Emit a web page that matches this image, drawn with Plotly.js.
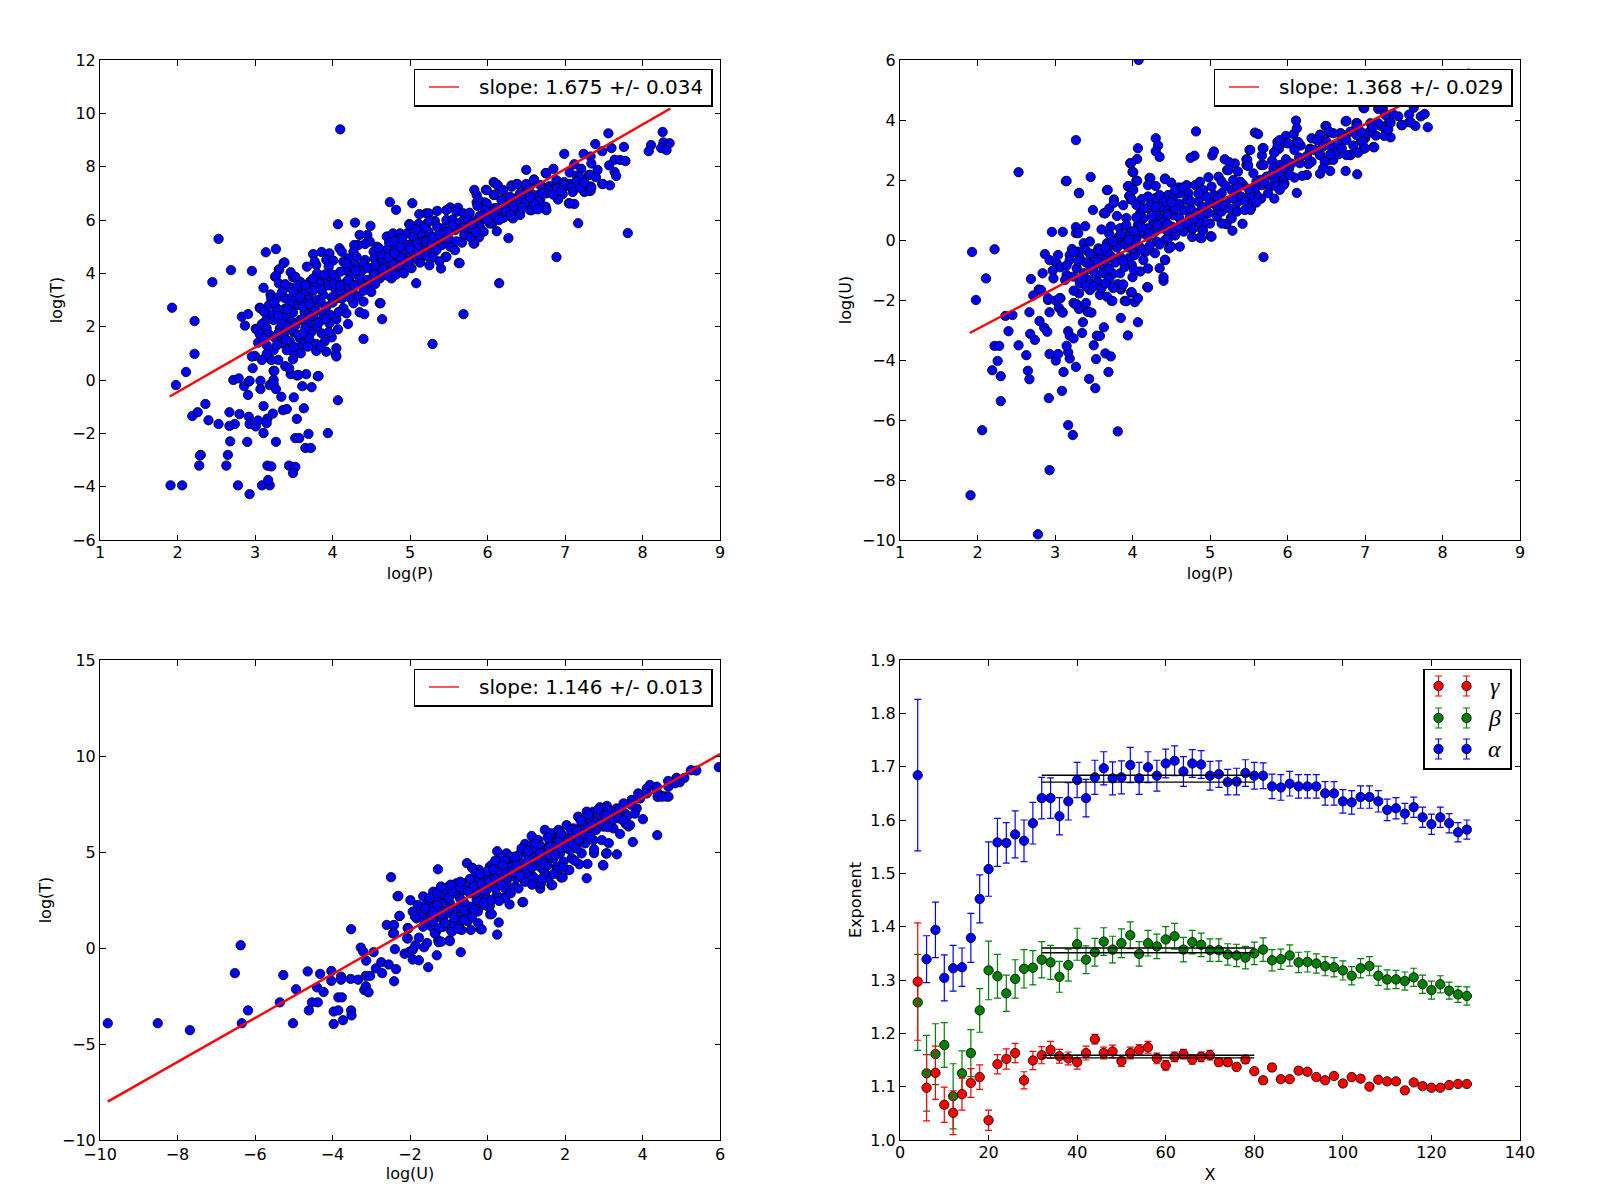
<!DOCTYPE html>
<html>
<head>
<meta charset="utf-8">
<script src="https://cdn.plot.ly/plotly-3.0.1.min.js"></script>
<style>body{margin:0;background:#fff}</style>
</head>
<body>
<div id="chart" style="width:1600px;height:1200px"></div>
<script>
// log(P) vs log(T)
const pointsPT = [[1.93,2.71],[1.98,-0.19],[2.11,0.30],[2.22,2.21],[2.22,0.98],[2.19,-1.35],[2.26,-1.21],[2.36,-0.90],[2.40,-1.51],[2.53,5.29],[2.53,-1.65],[2.45,3.67],[2.69,4.12],[2.30,-2.81],[2.29,-2.83],[2.28,-3.21],[1.91,-3.95],[2.06,-3.95],[2.63,-3.21],[2.65,-2.81],[2.68,-2.30],[2.67,-1.21],[2.67,-1.72],[2.74,-1.65],[2.80,-1.28],[2.72,0.0],[2.79,0.06],[2.86,-0.23],[2.92,-0.06],[2.93,-0.03],[2.91,-0.56],[2.92,-1.38],[2.93,-1.65],[3.01,-1.74],[3.04,-1.52],[2.90,-2.32],[2.78,-3.95],[2.93,-4.28],[3.09,-3.95],[3.19,-3.95],[3.17,-3.75],[3.16,-3.21],[3.21,-3.24],[3.11,-1.99],[3.16,-1.45],[3.15,-1.62],[3.23,-1.26],[3.11,-0.98],[3.07,-0.03],[3.07,-0.34],[3.19,-0.19],[3.24,0.01],[3.24,-0.13],[3.27,-0.34],[3.27,-2.32],[3.34,-0.63],[3.36,-1.13],[3.41,-1.09],[3.44,-3.21],[3.52,-3.26],[3.49,-3.49],[3.50,-0.65],[3.54,-1.46],[3.52,-2.18],[3.57,-2.18],[3.65,-2.55],[3.72,-2.55],[3.69,-2.02],[3.94,-1.99],[3.63,-1.06],[3.61,-0.23],[3.73,-0.27],[3.81,0.14],[3.66,0.22],[3.54,0.17],[3.46,0.22],[3.39,0.52],[3.24,0.34],[2.97,0.44],[4.07,-0.76],[4.40,1.54],[4.64,2.28],[4.61,2.88],[5.29,1.35],[5.08,3.63],[5.69,2.47],[6.15,3.63],[6.89,4.61],[7.81,5.51],[7.17,5.88],[6.27,5.32],[6.12,5.58],[4.10,9.40],[4.07,5.84],[4.29,5.90],[4.49,5.78],[4.74,6.67],[4.82,6.38],[5.03,6.63],[3.27,4.91],[3.14,4.79],[2.96,4.09],[3.37,4.39],[3.31,4.13],[3.26,3.87],[3.11,3.46],[3.06,2.71],[2.83,2.37],[2.91,2.47],[2.87,2.04],[3.01,1.92],
[8.26,9.30],[8.27,8.91],[8.35,8.88],[8.11,8.81],[8.24,8.70],[8.08,8.58],[8.31,8.62],[7.56,9.25],[7.39,8.85],[7.60,8.70],[7.76,8.74],[7.48,8.58],[7.64,8.26],[7.71,8.25],[7.78,8.21],[7.57,8.05],[7.42,7.88],[7.64,7.80],[7.66,7.65],[7.48,7.35],[7.58,7.30],[7.33,7.26],[7.32,7.09],[7.25,7.05],[7.05,6.63],[7.12,6.60],[7.24,8.48],[6.99,8.48],[7.33,8.38],[7.34,8.12],[7.12,8.09],[7.21,7.92],[6.85,7.92],[6.50,7.88],[6.75,7.76],[7.06,7.78],[7.31,7.69],[6.60,7.52],[7.15,7.66],[6.89,7.49],[6.99,7.42],[7.07,7.35],[7.17,7.45],[6.08,7.42],[6.13,7.30],[5.83,7.13],[5.98,7.13],[6.19,7.13],[6.31,7.30],[6.38,7.35],[6.48,7.30],[6.55,7.30],[6.71,7.23],[6.80,7.27],[6.88,7.23],[6.98,7.23],[6.66,6.94],[6.70,6.98],[6.78,7.05],[6.91,6.80],[6.68,6.77],[6.75,6.40],[6.55,6.37],[6.49,6.66],[6.42,6.23],[6.32,6.08],[6.20,6.08],[6.06,5.87],[6.35,6.80],[6.27,6.66],[6.19,6.37],[6.09,6.44],[5.96,6.66],[5.86,6.94],[5.86,6.66],[6.08,6.94],[6.22,6.77],[6.42,6.94],[6.52,7.09],[6.28,6.44],[6.35,6.44],[6.02,6.30],[5.92,6.01],[5.86,5.77],[5.92,5.58],[5.83,5.12],[5.66,5.19],[5.63,4.39],[5.40,4.18],[5.46,4.62],
[5.12,6.22],[5.21,6.25],[4.99,5.85],[5.11,5.85],[5.22,5.87],[4.35,5.44],[4.45,5.44],[4.48,5.19],[4.70,5.38],[4.78,5.50],[4.87,5.50],[4.96,5.50],[5.09,5.52],[5.19,5.50],[4.73,5.15],[4.87,5.31],[5.02,5.12],[5.11,5.27],[5.21,5.19],[4.57,5.0],[4.70,4.88],[4.81,5.0],[4.94,4.94],[5.04,4.81],[5.15,4.90],[5.24,4.88],[4.42,5.10],[4.33,5.06],[4.28,5.06],[4.09,4.94],[4.12,4.81],[3.75,4.72],[3.86,4.80],[3.96,4.75],[3.92,4.50],[4.01,4.48],[4.27,4.81],[4.53,4.81],[4.54,4.56],[4.42,4.50],[4.31,4.62],[4.20,4.56],[4.14,4.44],[4.29,4.31],[4.22,4.19],[4.16,4.12],[4.10,4.06],[4.18,4.37],[4.40,4.37],[4.50,4.19],[4.70,4.37],[4.59,4.37],[4.83,4.50],[4.98,4.75],[5.13,4.44],[5.02,4.19],[4.89,4.19],[4.78,4.06],[4.68,4.12],[4.61,3.81],[4.76,3.81],[4.53,3.94],[4.44,3.75],[4.35,3.62],[4.46,3.56],[4.23,3.88],[4.16,3.62],[4.05,3.75],[3.97,3.81],[3.86,3.81],[3.80,4.0],[3.79,4.31],[3.67,4.25],[3.77,4.44],[3.95,4.25],[3.71,3.69],[3.89,3.50],[3.83,3.62],[3.77,3.52],[4.04,3.38],[4.18,3.44],[4.27,3.25],[4.33,3.12],[4.40,2.94],[4.16,3.19],[4.05,3.06],[3.99,3.10],[3.88,3.19],[3.80,3.0],[3.69,3.12],[3.67,3.0],[3.62,3.31],[3.54,3.40],[3.45,3.47],[3.58,3.69],[3.49,3.85],[3.46,4.04],[3.52,3.87],[3.38,4.41],[3.31,4.15],[3.27,3.90],[3.31,3.62],[3.39,3.59],[3.20,3.21],[3.21,3.06],[3.29,3.09],[3.39,3.06],[3.48,3.10],[3.54,2.81],[3.38,2.66],[3.28,2.69],[3.18,2.81],[3.07,2.69],[3.21,2.44],[3.39,2.38],[3.49,2.53],[3.64,2.56],[3.73,2.75],[3.88,2.50],[3.97,2.44],[4.14,2.69],[4.18,2.50],[4.27,2.88],[4.35,2.54],[4.41,2.47],[4.62,2.88],[4.20,2.10],[4.05,2.27],[4.07,1.90],[3.96,2.12],[3.86,2.25],[3.69,2.12],[3.75,2.37],[3.58,2.25],[3.47,2.19],[3.32,1.94],[3.24,2.25],[3.14,2.22],[3.09,2.10],[3.15,1.94],[3.02,1.90],[3.06,1.72],[3.04,1.40],[3.18,1.71],[3.49,1.81],[3.37,1.69],[3.58,1.56],[3.73,1.81],[3.86,1.75],[3.99,1.60],[4.05,1.19],[4.04,0.97],[4.05,0.88],[3.92,1.06],[3.79,1.35],[3.79,1.09],[3.64,1.38],[3.57,1.19],[3.59,1.0],[3.49,1.06],[3.49,0.78],[3.41,1.12],[3.34,1.38],[3.24,1.12],[3.30,0.75],[3.21,0.75],[3.15,0.97],[3.09,0.75],[3.0,0.9],[2.96,0.88],[3.44,0.44],[3.25,0.34],[3.56,0.19],[3.82,0.15],
[5.24,6.25],[5.35,6.34],[5.52,6.47],[5.62,6.46],[5.47,6.37],[5.60,6.31],[5.69,6.25],[5.77,6.27],[5.47,6.0],[5.55,6.02],[5.67,5.94],[5.75,6.0],[5.32,5.97],[5.25,5.97],[5.43,5.69],[5.58,5.62],[5.73,5.56],[5.90,5.75],[5.95,5.56],[5.80,5.69],[5.24,5.56],[5.34,5.25],[5.13,5.5],[5.0,5.81],[5.04,5.38],[5.21,5.19],[5.41,5.06],[5.52,5.0],[5.67,5.15],[5.82,5.12],[5.89,5.35],[5.64,4.38],[5.58,4.87],[5.47,4.62],[5.34,4.87],[5.13,4.40],[5.02,4.75],[4.94,4.62],[4.98,4.25],[4.91,5.12],[4.98,5.06],[5.09,5.12],[5.17,4.87],[5.28,5.12],
[5.88,6.77],[5.87,6.53],[5.99,7.12],[6.09,7.40],[6.13,7.31],[6.20,7.12],[6.31,7.25],[6.38,7.35],[6.50,7.35],[6.60,7.5],[6.09,6.94],[5.99,6.62],[6.18,6.75],[6.29,6.87],[6.42,7.0],[6.53,7.12],[6.68,7.31],[6.76,7.75],[7.19,7.62],[7.32,7.69],[7.15,7.44],[7.0,7.31],[6.89,7.19],[7.08,7.22],[6.78,7.12],[6.97,6.97],[6.76,7.0],[6.70,6.97],[6.59,6.94],[6.46,6.81],[6.38,6.75],[6.33,6.5],[6.48,6.62],[6.57,6.37],[6.66,6.69],[6.91,6.77],[7.06,6.62],[6.75,6.5],[6.76,6.37],[6.42,6.19],[6.33,6.06],[6.21,6.1],[6.12,6.12],[6.03,6.12],[6.03,5.87],[6.20,6.44],[6.12,6.44],[5.97,6.37],[5.95,6.15],[5.86,6.0],[7.33,7.1],[7.49,7.35],[7.34,7.22],
[4.55,4.05],[4.65,4.55],[4.75,4.7],[4.85,4.3],[4.9,4.85],[5.05,4.55],[5.1,4.95],[4.6,4.25],[4.8,5.2],[4.65,3.95],[4.25,3.6],[4.1,3.35],[4.0,3.95],[3.9,3.95],[3.75,3.35],[3.6,2.95],[3.45,2.85],[3.3,2.4],[3.35,2.1],[3.65,1.95],[3.8,2.0],[3.55,1.7],[3.45,1.45],[3.7,1.55],[3.9,1.45],[3.25,1.6],[3.15,1.3]];
// the crowded core of the same panel, where circles overlap
const corePT = [[3.12,2.55],[3.25,2.9],[3.35,3.3],[3.42,2.65],[3.5,3.3],[3.58,3.1],[3.62,2.75],[3.7,2.85],[3.78,2.6],[3.85,2.9],[3.92,2.75],[4.0,2.9],[4.08,2.55],[4.12,3.05],[4.22,3.1],[3.42,2.0],[3.52,2.05],[3.62,2.3],[3.72,2.4],[3.82,2.15],[3.92,2.3],[3.3,1.75],[3.4,1.5],[3.5,1.25],[3.62,1.75],[3.68,1.25],[3.85,1.25],[3.95,1.8],[3.12,1.55],[3.28,1.3],[3.55,3.55],[3.65,3.55],[3.75,3.8],[3.85,3.4],[3.95,3.55],[4.02,3.6],[4.1,3.55],[4.2,3.75],[4.28,3.55],[4.35,3.85],[4.4,3.35],[4.5,3.3],[4.55,3.6],[4.38,4.1],[4.3,4.1],[4.45,4.2],[4.55,4.3],[4.65,4.15],[4.72,3.9],[4.82,3.95],[4.92,4.0],[4.98,4.45],[4.78,4.35],[4.88,4.6],[4.72,4.6],[4.62,4.75],[4.8,4.75],[4.88,5.0],[5.0,4.95],[5.12,4.7],[5.22,4.65],[5.3,4.6],[5.38,4.45],[5.25,4.3],[5.3,5.35],[5.42,5.3],[5.5,5.3],[5.6,5.2],[5.7,5.45],[5.78,5.35],[5.85,5.55],[5.48,5.55],[5.38,5.5],[5.6,5.85],[5.68,5.7],[5.8,5.85],[5.9,6.15],[6.0,6.0],[6.08,6.2],[6.15,6.0],[6.25,6.3],[6.3,6.2],[6.45,6.45],[6.6,6.6],[6.65,6.4],[6.85,6.95],[6.95,7.1],[7.1,7.05],[7.2,7.2],[7.25,7.4],[7.4,7.6],[6.55,6.85],[5.55,5.8],[5.35,5.75],[5.18,5.7],[5.08,5.65],[4.9,5.3],[4.6,4.95]];

// log(P) vs log(U)
const pointsPU = [[1.93,-0.40],[2.22,-0.31],[2.11,-1.28],[1.98,-2.0],[1.91,-8.51],[2.06,-6.34],[2.78,-9.81],[2.93,-7.67],[2.36,-2.53],[2.45,-2.5],[2.40,-3.04],[2.22,-3.53],[2.28,-3.53],[2.26,-4.03],[2.19,-4.34],[2.30,-4.54],[2.30,-5.37],[2.53,-3.51],[2.63,-3.84],[2.65,-4.36],[2.67,-4.64],[2.68,-3.13],[2.74,-3.33],[2.67,-2.41],[2.72,-1.85],[2.69,-1.30],[2.79,-1.65],[2.80,-2.70],[2.86,-2.92],[2.90,-3.06],[2.92,-5.27],[2.93,-3.80],[3.01,-4.02],[3.04,-3.80],[3.11,-4.40],[3.09,-5.03],[3.17,-6.17],[3.23,-6.5],[3.81,-6.38],[3.44,-4.63],[3.52,-4.94],[3.69,-4.40],[3.53,-3.97],[3.65,-3.78],[3.72,-3.88],[3.27,-4.23],[3.19,-3.95],[3.17,-3.74],[3.15,-3.53],[3.50,-3.51],[3.17,-3.04],[3.19,-3.19],[3.24,-3.28],[3.35,-3.10],[3.54,-3.19],[3.58,-3.20],[3.63,-2.91],[3.36,-2.74],[3.85,-2.60],[3.94,-3.18],[4.07,-2.74],[2.91,-2.0],[2.93,-2.41],[2.91,-1.94],[3.01,-2.02],[3.05,-2.26],[3.09,-2.40],[3.07,-1.94],[3.24,-2.10],[3.27,-2.16],[3.31,-2.30],[3.40,-2.10],[3.42,-2.39],[3.47,-2.42],[3.73,-2.03],[3.90,-2.03],[4.03,-2.07],[4.07,-1.94],[3.98,-1.75],[3.85,-1.65],[4.19,-1.57],[4.40,-1.36],[4.40,-1.24],[4.35,-0.94],[4.42,-0.66],[5.69,-0.57],[6.12,1.57],[3.27,3.33],[2.53,2.26],[3.14,1.96],[3.46,2.10],[3.31,1.57],[3.67,1.66],[3.49,1.0],[3.63,0.89],[3.70,1.05],[3.76,1.35],[3.76,1.24],[3.88,1.16],[3.80,0.80],[3.92,0.73],[2.96,0.27],[3.10,0.27],[3.27,0.43],[3.39,0.46],[3.27,0.23],[3.30,0.23],[3.97,2.56],[4.0,2.27],[4.05,1.98],[4.07,3.06],[4.06,2.70],[3.94,1.79],[4.0,1.70],[3.96,1.47],[3.98,1.35],[4.30,3.39],[4.33,3.15],[4.30,2.96],[4.35,2.77],[4.22,2.07],[4.42,2.05],[4.50,1.91],[4.82,3.62],[4.80,2.81],[4.75,2.74],[5.03,2.82],[5.05,2.95],[5.19,2.69],[5.32,2.55],[5.25,2.59],[5.22,2.33],[5.47,2.69],[5.51,3.0],[5.68,3.06],[5.67,2.82],[5.58,3.58],[5.62,3.53],[5.47,2.5],[5.66,2.5],[5.83,2.93],[5.87,3.27],[5.98,3.47],[6.08,3.53],[6.11,3.98],[6.12,3.72],[5.99,3.23],[5.89,3.04],[6.09,3.0],[6.17,3.15],[6.12,3.27],[6.31,3.39],[6.42,3.51],[6.53,3.58],[6.49,3.80],[6.75,3.95],[6.89,3.90],[6.69,3.55],[6.38,3.35],[6.29,3.04],[6.42,2.84],[6.52,2.65],[6.42,2.21],[6.55,2.30],[6.75,2.30],[6.90,2.19],[6.25,2.17],[6.19,2.14],[6.09,2.08],[5.96,1.89],[5.83,1.38],[5.66,1.38],[5.53,1.06],[5.42,0.54],[5.29,0.31],[5.21,0.54],[5.27,0.74],[5.01,0.13],[4.87,0.08],[5.0,0.55],[4.90,0.33],[4.77,0.36],[4.77,0.10],[4.61,-0.22],[4.47,-0.28],[6.95,3.29],[6.98,3.04],[6.91,2.91],[6.81,2.84],[7.11,3.10],[7.33,3.42],[7.17,3.86],[7.06,3.61],[7.14,3.48],[7.27,3.67],[7.47,3.83],[7.81,3.76],[7.65,3.80],[7.72,4.12],[7.77,4.20],[7.57,3.93],[7.57,4.18],[7.43,4.12],[7.63,4.41],[7.34,4.18],[6.98,4.41],[7.17,4.37],[7.23,4.37],[7.31,3.93],[7.21,3.80],
[4.08,6.0],[3.15,1.97],[3.31,1.56],[3.68,1.67],[3.98,2.56],[4.01,2.26],[4.06,1.97],[3.95,1.80],[4.01,1.67],[3.96,1.47],[3.99,1.36],[3.65,0.89],[3.84,0.39],[3.97,0.28],[4.07,0.50],[4.14,0.72],[4.23,1.0],[4.10,0.89],[4.23,2.06],[4.20,1.83],[4.30,1.80],[4.42,2.03],[4.12,1.36],[4.29,1.39],[4.23,1.17],[4.05,1.17],[4.46,1.50],[4.53,1.44],[4.70,1.83],[4.81,1.83],[4.87,1.94],[4.98,2.09],[5.11,2.11],[5.02,1.78],[5.15,1.56],[4.91,1.67],[4.72,1.56],[4.61,1.56],[4.70,1.33],[4.85,1.28],[5.0,1.22],[5.21,1.28],[5.34,1.56],[5.43,1.83],[5.56,2.22],[5.36,2.28],[5.24,2.33],[5.49,2.5],[5.39,1.94],[5.28,1.67],[5.52,1.56],[5.60,1.5],[5.52,1.0],[5.21,0.53],[5.28,0.72],[5.02,0.11],[4.89,0.06],[4.78,0.39],[4.91,0.33],[4.66,0.28],[4.50,-0.22],[4.42,0.0],[4.31,-0.05],[4.46,0.06],[4.29,0.28],[4.38,0.39],[4.51,0.44],[4.63,0.61],[4.74,0.78],[4.83,0.89],[5.09,0.78],[4.93,0.61],[4.53,0.83],[4.66,1.0],[4.48,1.0],[4.42,1.06],[4.35,0.78],[4.27,0.61],[4.20,0.39],[4.14,0.22],[4.05,0.06],[3.97,0.17],[3.84,0.06],[3.88,-0.11],[3.77,-0.17],[3.67,-0.11],[3.56,-0.28],[3.52,-0.44],[3.37,-0.11],[3.39,-0.33],[3.30,-0.39],[3.32,-0.61],[3.19,-0.50],[3.19,-0.67],[3.04,-0.50],[2.87,-0.47],[2.93,-0.67],[3.02,-0.78],[3.07,-0.91],[2.97,-1.02],[2.84,-1.11],[2.98,-1.28],[3.15,-1.17],[3.28,-0.94],[3.37,-1.11],[3.49,-0.94],[3.62,-0.89],[3.73,-0.56],[3.84,-0.56],[3.95,-0.61],[4.14,-0.67],[4.29,-0.44],[4.42,-0.67],[4.17,-0.39],[4.03,-0.50],[3.99,-0.83],[3.84,-1.11],[3.75,-1.13],[3.62,-1.11],[3.54,-1.17],[3.43,-1.33],[3.24,-1.22],[3.13,-1.33],[3.32,-1.44],[3.45,-1.67],[3.31,-1.78],[3.24,-1.69],[3.58,-1.83],[3.67,-1.89],[3.74,-2.03],[3.86,-1.56],[3.81,-1.47],[3.88,-1.48],[4.0,-1.24],[4.20,-1.58],[3.92,-2.04],[3.99,-1.74],[3.06,-1.94],[2.82,-1.67],[3.28,-2.14],[3.43,-2.39],[3.10,-2.42],
[6.76,3.97],[6.90,3.89],[6.99,4.39],[6.50,3.80],[6.89,3.80],[6.81,3.61],[6.68,3.56],[6.59,3.56],[6.54,3.61],[6.42,3.5],[6.38,3.33],[6.50,3.28],[6.70,3.39],[6.76,3.33],[6.89,3.5],[7.0,3.39],[6.97,3.28],[7.04,3.56],[7.07,3.64],[7.07,3.89],[7.17,3.89],[7.25,3.47],[7.30,3.69],[7.33,3.91],[7.36,4.2],[7.48,3.83],[7.59,3.92],[7.26,4.17],[7.19,4.44],[7.12,3.09],[7.0,3.06],[6.81,2.83],[6.76,2.83],[6.66,2.86],[6.60,2.94],[6.42,2.83],[6.48,2.61],[6.59,2.67],[6.46,2.39],[6.31,2.61],[6.27,2.53],[6.29,3.0],[6.16,2.56],[6.14,3.26],[6.01,3.22],[5.90,3.33],[5.87,3.11],[5.83,2.91],[5.69,3.06],[5.52,3.0],[5.48,2.67],[5.49,2.47],[5.80,2.64],[5.98,2.69],[5.90,2.5],[5.82,2.39],[5.69,2.5],[5.73,2.11],[5.84,2.0],[5.95,2.06],[6.02,2.39],[6.03,2.17],[5.67,1.83],[5.77,1.78],[5.85,1.8],[5.95,1.83],[5.90,1.67],[5.52,1.47],[5.58,1.72],[5.65,2.0],[5.75,1.56],[5.49,1.22],
[3.6,-0.55],[3.7,0.2],[3.8,-0.25],[3.9,-0.15],[4.0,-0.3],[3.5,-0.65],[3.4,-0.75],[3.55,-1.4],[3.7,-1.3],[3.65,-0.7],[3.45,-0.05],[3.6,0.35],[4.1,0.5],[4.3,0.9],[4.4,1.25],[4.6,1.2],[4.75,1.05],[4.9,1.1],[5.1,1.0],[5.15,0.95],[5.35,1.25],[5.3,1.4],[5.4,1.45],[4.55,0.15],[4.65,0.55],[4.85,0.6],[5.05,1.5],[5.15,1.95],[5.3,2.0],[4.6,1.75],[4.4,0.6],[4.2,0.1],[4.1,-0.25],[3.9,-0.9],[3.7,-0.95]];
// the crowded core of the same panel
const corePU = [[3.22,-0.3],[3.3,-0.7],[3.45,-0.45],[3.35,-1.3],[3.5,-1.05],[3.4,-1.55],[3.5,-1.55],[3.58,-0.35],[3.68,-0.4],[3.78,-0.75],[3.88,-0.7],[3.95,-0.25],[4.05,-0.15],[4.12,-0.35],[4.22,-0.2],[4.35,-0.15],[3.72,0.45],[3.82,0.1],[3.92,0.5],[4.02,0.3],[4.12,0.42],[4.22,0.22],[4.32,0.5],[4.45,0.3],[4.55,0.4],[3.6,-1.6],[3.65,-1.45],[3.75,-1.6],[4.1,-1.05],[4.2,-0.95],[4.02,-1.0],[3.15,-0.85],[3.25,-0.4],[3.45,-0.85],[3.55,-0.75],[3.65,-0.25],[3.75,-0.05],[3.85,0.2],[3.95,0.0],[4.05,0.75],[4.15,1.05],[4.25,0.8],[4.35,1.1],[4.45,0.85],[4.55,1.05],[4.6,0.75],[4.7,0.55],[4.8,0.7],[4.88,0.85],[4.98,0.9],[5.08,1.15],[5.18,1.15],[5.25,1.05],[5.35,0.95],[5.45,1.3],[5.5,1.7],[5.6,1.95],[5.7,1.95],[5.8,2.2],[5.9,2.25],[5.95,2.4],[6.05,2.55],[6.15,2.75],[6.25,2.8],[6.35,3.0],[6.45,3.1],[6.55,3.15],[6.65,3.2],[6.55,2.85],[6.7,3.05],[6.85,3.15],[6.95,3.6],[7.1,3.75],[5.1,1.4],[5.2,1.8],[5.35,1.75],[4.95,1.45],[4.85,1.55],[4.75,1.3],[4.55,1.65],[4.5,1.25],[4.35,1.5],[4.2,1.45],[4.65,1.75],[4.3,1.1],[4.45,0.55],[4.6,0.45],[5.15,0.55],[5.45,1.0],[5.6,1.25]];

// log(U) vs log(T)
const pointsUT = [[-9.80,-3.92],[-8.51,-3.92],[-7.68,-4.28],[-6.52,-1.31],[-6.37,0.14],[-6.34,-3.92],[-6.18,-3.25],[-5.36,-2.83],[-5.27,-1.41],[-5.02,-3.92],[-4.94,-2.15],[-4.64,-1.22],[-4.61,-3.25],[-4.53,-2.83],[-4.38,-2.83],[-4.40,-2.05],[-4.32,-1.35],[-4.23,-2.29],[-4.03,-1.20],[-4.03,-1.71],[-3.97,-3.31],[-3.85,-3.25],[-3.97,-3.96],[-3.73,-3.76],[-3.85,-2.57],[-3.76,-2.57],[-3.78,-1.49],[-3.78,-1.65],[-3.52,0.98],[-3.53,-1.61],[-3.52,-3.25],[-3.51,-3.51],[-3.34,-1.65],[-3.27,0.02],[-3.18,-2.19],[-3.21,-0.18],[-3.14,-1.99],[-3.13,-0.66],[-3.14,-1.45],[-3.03,-1.45],[-3.07,-2.31],[-2.94,-0.22],[-2.88,-1.06],[-2.74,-0.74],[-2.72,-1.31],[-2.55,-0.86],[-2.36,-1.10],[-2.41,-1.73],[-2.39,-0.06],[-2.44,0.76],[-2.43,1.18],[-2.60,1.20],[-2.49,3.69],[-2.32,2.69],[-2.27,1.67],[-1.99,2.49],[-2.14,-0.30],[-2.02,-0.2],[-1.93,-0.10],[-1.86,0.14],[-1.93,-0.60],[-1.77,-0.64],[-1.53,-1.0],[-1.64,0.04],[-1.56,0.26],[-1.77,0.54],[-2.06,1.04],[-2.06,0.50],[-1.66,2.69],[-1.31,-0.38],[-1.27,0.40],[-1.26,0.30],[-1.33,0.84],[-0.98,0.40],[-0.69,-0.22],[-1.28,4.10],[-0.53,4.42],[-0.40,4.18],[-0.22,4.08],[0.25,5.04],[0.25,0.70],[0.29,1.33],[0.07,1.75],[-0.18,0.98],[-0.43,0.94],[-0.24,1.29],[-0.51,1.39],[-0.74,1.20],[-0.94,0.90],[0.57,2.27],[0.90,2.39],[0.44,2.63],[1.36,3.09],[1.36,3.35],[1.65,3.27],[1.90,3.67],[2.10,4.06],[2.56,3.63],[2.58,4.38],[2.98,4.32],[2.75,4.94],[2.75,5.14],[3.06,4.92],[3.34,4.88],[3.75,5.52],[3.13,5.46],[3.42,5.94],[3.64,6.33],[4.01,6.71],[4.38,5.88],[4.60,7.89],[4.39,7.87],[4.50,7.93],[5.97,9.42],[5.39,9.24],[5.25,9.26],[5.08,8.86],[4.96,8.63],[4.88,8.86],[4.76,8.61],[4.66,8.70],
[4.88,8.84],[4.67,7.88],[4.50,7.88],[4.19,8.49],[4.11,8.31],[4.37,8.14],[3.89,8.05],[3.72,7.71],[3.51,7.53],[3.08,4.93],[2.99,4.30],[2.37,4.36],[2.43,4.93],[2.95,5.62],[2.73,5.62],[3.68,6.40],[3.57,6.46],[3.25,6.23],[2.99,6.32],[2.73,6.15],[2.52,5.45],[2.30,5.19],[2.17,4.67],[1.96,4.50],[1.79,4.24],[2.11,4.06],[1.94,3.68],[1.67,3.28],[1.38,3.37],[0.92,2.39],[0.45,2.59],[1.57,3.63],[1.18,3.71],[0.92,3.63],[0.75,3.63],[0.49,3.37],[0.24,3.28],[0.11,3.28],[-0.02,3.02],[-0.19,2.67],[0.06,2.19],[0.11,1.77],[-0.15,0.97],[-0.67,0.94],[-0.97,0.36],[-1.19,0.33],[-0.92,0.85],[-1.14,1.11],[-1.44,1.11],[-2.04,1.02],[-2.07,0.50],[-2.27,1.67],[-2.41,1.2],[-2.41,0.76],[-0.38,4.15],[-0.30,3.89],[-2.30,2.71],[-1.80,2.24],[-1.93,1.89],[-1.83,1.54],
[-1.40,2.93],[-1.23,3.02],[-1.01,3.19],[-0.80,3.11],[-0.58,3.37],[-0.41,3.45],[-0.24,3.54],[-0.07,3.71],[0.06,4.24],[0.24,4.32],[0.49,4.93],[0.80,4.84],[0.97,5.42],[1.14,5.83],[1.31,5.62],[1.48,6.15],[1.70,5.97],[1.83,6.15],[2.04,6.40],[2.22,6.23],[2.34,6.84],[2.56,7.10],[2.73,7.10],[2.90,7.33],[3.08,7.40],[3.33,7.27],[2.86,6.67],[2.65,6.49],[2.43,6.40],[1.96,5.80],[1.61,5.54],[1.27,5.10],[1.01,4.93],[0.71,4.50],[0.41,4.15],[0.15,3.80],[-0.19,3.19],[-0.45,2.85],[-0.71,2.59],[-0.97,2.33],[-1.19,1.98],[-1.48,1.72],[-1.66,1.54],[-1.19,2.41],[-1.40,2.33],[-1.05,2.67],[-0.84,2.85],[-0.63,3.02],[-1.57,2.33],[-1.70,1.80],[-1.44,2.07],[-1.31,1.63],[-1.05,1.80],[-0.80,1.63],[-0.71,2.07],[-0.45,2.15],[-0.19,2.15],[0.02,2.15],[-0.28,2.50],[-0.02,2.59],[0.24,2.76],[0.45,3.11],[0.71,3.19],[0.97,3.45],[1.48,3.89],[1.79,4.06],[1.40,4.15],[1.10,4.06],[0.84,3.97],[0.58,3.71],[0.32,3.54],[0.67,4.24],[0.92,4.41],[1.18,4.41],[1.44,4.58],[1.70,4.67],[1.87,4.93],[2.13,5.10],[1.70,5.10],[1.48,5.19],[1.79,5.54],[2.13,5.71],[2.39,5.88],[2.65,6.06],[2.47,5.71],[2.82,6.40],[3.08,6.67],[3.33,6.93],[3.55,7.01],[3.85,7.27],[3.72,7.45],[3.94,7.79],[4.11,8.05],[4.37,8.40],[4.67,8.40],[4.84,8.58],[1.01,4.24],[0.49,4.41],[0.28,4.41],[0.11,4.32],[0.32,4.67],[0.58,4.76],[0.88,5.19],[1.14,5.36],[1.35,5.36],[1.61,5.97],[1.87,5.88],[1.31,4.84],[1.57,5.02],[2.04,5.54],[2.30,5.71],[-0.80,3.37],[-1.10,2.76],[-1.31,2.59],[-1.57,1.98],[-1.87,1.63],[-1.66,1.11],[-1.36,0.76],
[-0.9,2.0],[-0.6,2.35],[-0.3,2.85],[-0.1,3.0],[0.2,3.1],[0.5,3.7],[0.75,4.05],[1.05,4.6],[1.25,4.9],[1.5,4.75],[1.75,5.3],[2.0,5.2],[2.2,5.85],[2.5,6.2],[2.75,6.6],[3.0,7.0],[3.2,7.1],[3.4,7.2],[1.0,3.9],[1.3,4.3],[0.6,4.2],[0.3,3.9],[0.0,3.6],[-0.5,3.2],[-1.0,2.6],[-1.3,2.2],[-1.5,1.4],[-1.15,1.5],[-0.9,1.3],[-0.55,1.75],[-0.25,1.9],[1.55,4.3],[1.85,5.6],[1.2,5.2],[2.6,6.75],[2.45,6.6]];
// the crowded core of the same panel
const coreUT = [[-1.5,2.6],[-1.3,2.85],[-1.1,3.05],[-0.9,2.95],[-0.7,3.15],[-0.5,2.95],[-0.35,3.25],[-0.15,3.35],[0.05,3.45],[0.2,3.6],[0.35,3.3],[0.5,3.95],[0.65,3.95],[0.85,3.75],[1.0,4.15],[1.15,4.2],[1.3,4.6],[1.45,4.4],[1.6,4.85],[1.75,4.85],[1.9,5.2],[2.05,5.25],[2.2,5.4],[2.35,5.6],[2.5,5.95],[2.65,5.8],[2.8,6.15],[2.95,6.5],[3.1,6.3],[3.25,6.7],[3.4,6.75],[3.6,6.85],[3.8,7.0],[-1.6,2.05],[-1.4,1.85],[-1.2,1.75],[-1.0,2.05],[-0.85,1.55],[-0.6,1.95],[-0.35,2.0],[-0.1,2.35],[0.1,2.5],[0.3,2.45],[0.6,2.85],[0.8,3.1],[1.15,3.3],[1.4,3.6],[1.7,3.85],[1.95,4.2],[2.25,4.55],[-1.1,1.3],[-1.25,1.05],[-1.4,1.4],[-0.75,1.0],[-0.4,1.6],[-0.6,1.45],[0.0,4.0],[0.2,4.55],[0.45,4.55],[0.7,4.75],[1.05,5.05],[1.25,5.45],[1.55,5.75],[1.9,5.95],[2.15,6.15],[2.4,6.65],[2.6,6.95],[2.85,7.2],[3.1,7.2],[-0.2,3.85],[-0.45,3.6],[-0.7,3.45],[-0.95,3.3],[-1.2,3.2],[0.15,4.1],[0.4,4.3],[0.75,4.3],[1.6,5.25],[1.35,4.95],[2.3,6.1],[2.7,6.4],[3.05,6.9],[3.5,6.65]];

// exponents against X, with their error bars
const xValues = [4,6,8,10,12,14,16,18,20,22,24,26,28,30,32,34,36,38,40,42,44,46,48,50,52,54,56,58,60,62,64,66,68,70,72,74,76,78,80,82,84,86,88,90,92,94,96,98,100,102,104,106,108,110,112,114,116,118,120,122,124,126,128];
const alpha = [1.684,1.339,1.394,1.304,1.322,1.324,1.379,1.452,1.508,1.558,1.557,1.573,1.561,1.594,1.641,1.641,1.607,1.635,1.675,1.641,1.68,1.697,1.678,1.68,1.703,1.678,1.699,1.683,1.706,1.711,1.691,1.706,1.704,1.683,1.686,1.671,1.672,1.688,1.683,1.683,1.663,1.661,1.668,1.663,1.663,1.663,1.65,1.65,1.635,1.633,1.643,1.643,1.635,1.619,1.622,1.612,1.624,1.605,1.592,1.605,1.594,1.577,1.582];
const alphaErr = [0.142,0.044,0.052,0.043,0.043,0.036,0.046,0.045,0.051,0.045,0.038,0.044,0.039,0.039,0.039,0.038,0.035,0.035,0.033,0.035,0.032,0.031,0.031,0.031,0.033,0.03,0.029,0.029,0.027,0.028,0.028,0.026,0.026,0.027,0.025,0.024,0.025,0.025,0.025,0.024,0.023,0.024,0.023,0.022,0.022,0.022,0.022,0.022,0.022,0.022,0.021,0.021,0.02,0.02,0.02,0.019,0.019,0.019,0.019,0.019,0.018,0.018,0.018];
const beta = [1.258,1.125,1.161,1.178,1.082,1.125,1.163,1.243,1.318,1.307,1.275,1.302,1.321,1.323,1.338,1.333,1.306,1.328,1.367,1.338,1.352,1.372,1.357,1.369,1.384,1.349,1.369,1.363,1.376,1.382,1.357,1.371,1.366,1.356,1.356,1.348,1.346,1.342,1.35,1.357,1.337,1.339,1.346,1.333,1.334,1.331,1.326,1.324,1.318,1.308,1.322,1.326,1.308,1.301,1.301,1.298,1.305,1.292,1.281,1.292,1.28,1.273,1.27];
const betaErr = [0.09,0.071,0.057,0.042,0.061,0.042,0.044,0.041,0.055,0.041,0.034,0.036,0.036,0.032,0.034,0.032,0.029,0.03,0.03,0.026,0.026,0.026,0.025,0.027,0.025,0.023,0.024,0.023,0.024,0.024,0.023,0.022,0.022,0.021,0.021,0.02,0.021,0.021,0.021,0.022,0.02,0.019,0.02,0.019,0.019,0.018,0.018,0.018,0.018,0.017,0.018,0.018,0.018,0.018,0.017,0.017,0.017,0.017,0.017,0.016,0.016,0.015,0.017];
const gamma = [1.297,1.098,1.126,1.066,1.051,1.086,1.107,1.118,1.037,1.142,1.152,1.163,1.112,1.149,1.159,1.169,1.157,1.153,1.146,1.163,1.189,1.163,1.166,1.148,1.163,1.169,1.174,1.153,1.14,1.156,1.161,1.151,1.156,1.159,1.146,1.146,1.137,1.151,1.129,1.112,1.136,1.114,1.114,1.13,1.128,1.118,1.112,1.12,1.106,1.118,1.115,1.1,1.113,1.11,1.11,1.093,1.108,1.101,1.098,1.098,1.103,1.105,1.105];
const gammaErr = [0.11,0.062,0.05,0.033,0.041,0.03,0.027,0.023,0.019,0.018,0.019,0.018,0.016,0.017,0.016,0.016,0.013,0.012,0.013,0.013,0.009,0.011,0.012,0.01,0.011,0.01,0.011,0.01,0.009,0.009,0.009,0.009,0.009,0.009,0.007,0.007,0.007,0.007,0.006,0.007,0.007,0.006,0.006,0.006,0.006,0.005,0.005,0.005,0.005,0.005,0.005,0.005,0.004,0.004,0.004,0.004,0.004,0.004,0.004,0.004,0.004,0.004,0.004];

// fit lines
const fitPTx = [1.9,8.36], fitPTy = [-0.62,10.18];
const fitPUx = [1.9,8.35], fitPUy = [-3.1,5.7];
const fitUTx = [-9.8,6], fitUTy = [-8.0,10.1];
const fitX = [32,80];
const meanLines = [[1.684,1.671],[1.36,1.351],[1.159,1.154]];
const slopeLabels = ['slope: 1.675 +/- 0.034','slope: 1.368 +/- 0.029','slope: 1.146 +/- 0.013'];

const BLUE = '#0000ff', GREEN = '#008000', RED = '#ff0000';
const W = 1600, H = 1200;
const fontFamily = '"DejaVu Sans", sans-serif';
const MARKER_SIZE = 9.4;

function scatterTrace(points, n) {
  return {x: points.map(p => p[0]), y: points.map(p => p[1]), mode: 'markers', showlegend: false,
    xaxis: 'x' + n, yaxis: 'y' + n,
    marker: {color: BLUE, size: MARKER_SIZE, line: {color: '#000', width: 0.8}}};
}
function lineTrace(x, y, n, color, width) {
  return {x: x, y: y, mode: 'lines', showlegend: false, xaxis: 'x' + n, yaxis: 'y' + n,
    line: {color: color, width: width}};
}
function errTrace(y, err, color) {
  return {x: xValues, y: y, mode: 'markers', showlegend: false, xaxis: 'x4', yaxis: 'y4',
    marker: {color: color, size: MARKER_SIZE, line: {color: '#000', width: 0.8}},
    error_y: {type: 'data', array: err, color: color, thickness: 1.2, width: 3.5}};
}
function axis(domain, range, dtick, title, standoff, anchor, extra) {
  return Object.assign({domain: domain, range: range, dtick: dtick, tick0: 0, anchor: anchor,
    showgrid: false, zeroline: false, showline: true, mirror: 'ticks', linecolor: '#000', linewidth: 1,
    ticks: 'inside', ticklen: 5.5, tickwidth: 1, tickcolor: '#000',
    tickfont: {family: fontFamily, size: 16, color: '#000'},
    title: {text: title, standoff: standoff, font: {family: fontFamily, size: 16, color: '#000'}}}, extra || {});
}
// small framed box used as a legend, given in picture pixels
function boxAxis(a, b, size, anchor) {
  return {domain: [a / size, b / size], range: [0, b - a], anchor: anchor, fixedrange: true,
    showgrid: false, zeroline: false, showline: true, mirror: true, linecolor: '#000', linewidth: 1.5,
    ticks: '', showticklabels: false};
}

const colL = [100 / W, 720 / W], colR = [900 / W, 1520 / W];
const rowT = [1 - 540 / H, 1 - 60 / H], rowB = [1 - 1140 / H, 1 - 660 / H];
const xShift = {ticklabelstandoff: -2};

const data = [
  scatterTrace(pointsPT.concat(corePT), 1), lineTrace(fitPTx, fitPTy, 1, RED, 2.4),
  scatterTrace(pointsPU.concat(corePU), 2), lineTrace(fitPUx, fitPUy, 2, RED, 2.4),
  scatterTrace(pointsUT.concat(coreUT), 3), lineTrace(fitUTx, fitUTy, 3, RED, 2.4),
  errTrace(alpha, alphaErr, BLUE), errTrace(beta, betaErr, GREEN), errTrace(gamma, gammaErr, RED)
];
meanLines.forEach(pair => pair.forEach(v => {
  data.push(lineTrace(fitX, [v, v], 4, '#000', 1.4));
}));

const layout = {
  width: W, height: H, margin: {l: 0, r: 0, t: 0, b: 0}, showlegend: false,
  paper_bgcolor: '#fff', plot_bgcolor: '#fff', font: {family: fontFamily, size: 16, color: '#000'},
  xaxis: axis(colL, [1, 9], 1, 'log(P)', 6, 'y', xShift),
  yaxis: axis(rowT, [-6, 12], 2, 'log(T)', 5, 'x'),
  xaxis2: axis(colR, [1, 9], 1, 'log(P)', 6, 'y2', xShift),
  yaxis2: axis(rowT, [-10, 6], 2, 'log(U)', 6, 'x2'),
  xaxis3: axis(colL, [-10, 6], 2, 'log(U)', 4, 'y3'),
  yaxis3: axis(rowB, [-10, 15], 5, 'log(T)', 6, 'x3'),
  xaxis4: axis(colR, [0, 140], 20, 'X', 7, 'y4', xShift),
  yaxis4: axis(rowB, [1, 1.9], 0.1, 'Exponent', 4, 'x4', {tickformat: '.1f'}),
  annotations: []
};

// slope legends for the three scatter panels
[[415, 70], [1215, 70], [415, 670]].forEach((pos, i) => {
  const n = 5 + i;
  layout['xaxis' + n] = boxAxis(pos[0], pos[0] + 296, W, 'y' + n);
  layout['yaxis' + n] = boxAxis(H - pos[1] - 35, H - pos[1], H, 'x' + n);
  data.push(lineTrace([14, 44], [18, 18], n, RED, 1.3));
  layout.annotations.push({xref: 'x' + n, yref: 'y' + n, x: 62, y: 18, text: slopeLabels[i], showarrow: false,
    xanchor: 'left', yanchor: 'middle', font: {family: fontFamily, size: 20, color: '#000'}});
});

// legend of the exponent panel, with two keys per row
layout.xaxis8 = boxAxis(1424.5, 1510, W, 'y8');
layout.yaxis8 = boxAxis(H - 768, H - 670, H, 'x8');
const keyRows = [[82, RED, 'γ'], [50, GREEN, 'β'], [19, BLUE, 'α']];
keyRows.forEach(row => {
  data.push({x: [14, 42], y: [row[0], row[0]], mode: 'markers', showlegend: false, xaxis: 'x8', yaxis: 'y8',
    marker: {color: row[1], size: MARKER_SIZE, line: {color: '#000', width: 0.8}},
    error_y: {type: 'constant', value: 10, color: row[1], thickness: 1.2, width: 3.5}});
  layout.annotations.push({xref: 'x8', yref: 'y8', x: 70, y: row[0], text: '<i>' + row[2] + '</i>', showarrow: false,
    font: {family: '"Liberation Serif", serif', size: 24, color: '#000'}});
});

Plotly.newPlot('chart', data, layout, {displayModeBar: false, staticPlot: true});
</script>
</body>
</html>
